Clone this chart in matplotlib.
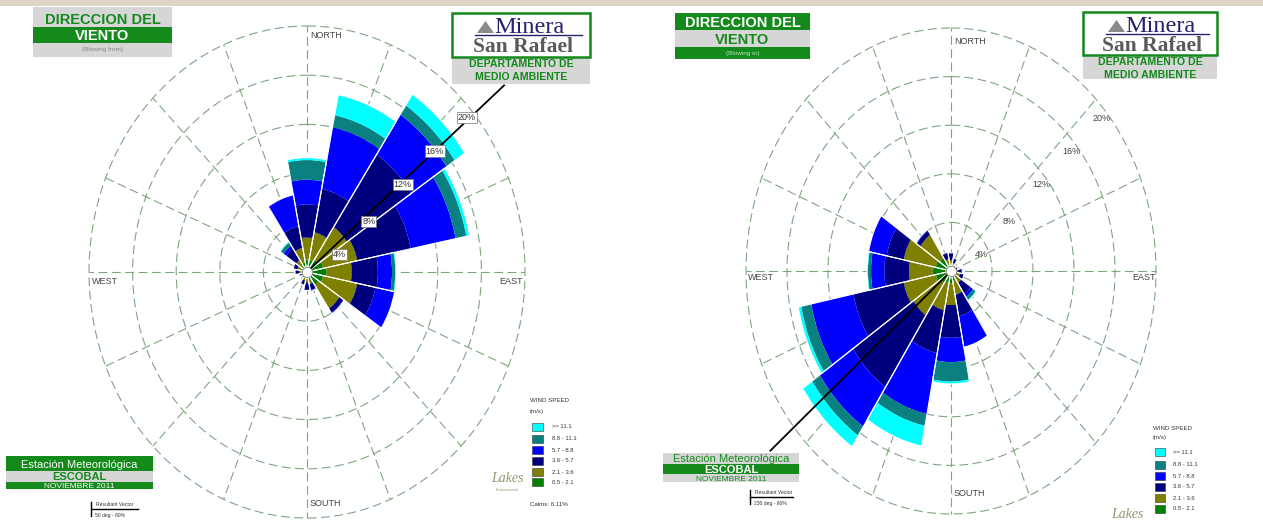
import numpy as np
import matplotlib
matplotlib.use('Agg')
import matplotlib.pyplot as plt
from matplotlib.patches import Rectangle, Polygon
from matplotlib.lines import Line2D

W, H = 1263, 521
fig = plt.figure(figsize=(W / 100, H / 100), dpi=100)
fig.patch.set_facecolor('white')

# ---------------- data ----------------
directions = ['N', 'NNE', 'NE', 'ENE', 'E', 'ESE', 'SE', 'SSE',
              'S', 'SSW', 'SW', 'WSW', 'W', 'WNW', 'NW', 'NNW']
dir_deg = np.arange(16) * 22.5
speed_labels = ['>= 11.1', '8.8 - 11.1', '5.7 - 8.8', '3.6 - 5.7', '2.1 - 3.6', '0.5 - 2.1']
# frequency (%) of each speed class per direction (wind blowing from)
f_05_21 = [1.0, 1.0, 1.2, 1.5, 1.8, 1.5, 1.3, 0.6, 0.5, 0.4, 0.3, 0.3, 0.4, 0.5, 0.6, 0.8]
f_21_36 = [1.8, 2.3, 3.2, 3.2, 2.3, 3.2, 2.3, 0.4, 0.4, 0.3, 0.2, 0.2, 0.3, 0.4, 0.6, 1.2]
f_36_57 = [2.7, 3.6, 7.1, 5.0, 2.4, 1.7, 0.4, 0.5, 0.6, 0.4, 0.1, 0.2, 0.4, 0.4, 1.1, 1.8]
f_57_88 = [2.0, 5.1, 3.9, 4.2, 1.3, 1.8, 0.1, 0.1, 0.0, 0.0, 0.0, 0.0, 0.0, 0.0, 0.3, 2.6]
f_88_111 = [1.6, 1.0, 0.9, 1.0, 0.3, 0.0, 0.0, 0.0, 0.0, 0.0, 0.0, 0.0, 0.0, 0.0, 0.3, 0.0]
f_111 = [0.2, 1.7, 1.1, 0.3, 0.1, 0.0, 0.0, 0.0, 0.0, 0.0, 0.0, 0.0, 0.0, 0.0, 0.1, 0.0]
classes = [f_05_21, f_21_36, f_36_57, f_57_88, f_88_111, f_111]
class_colors = ['#008000', '#808000', '#00007F', '#0000FF', '#0A8080', '#00FFFF']
ring_levels = [4, 8, 12, 16, 20]
ring_labels = ['4%', '8%', '12%', '16%', '20%']
calms = 6.11
resultant_from_deg = 50
resultant_to_deg = 230

GREEN = '#14891C'
GREY = '#D6D6D6'
GRIDC = '#7FA57F'
SANS = ['Liberation Sans', 'DejaVu Sans']
SERIF = ['Liberation Serif', 'DejaVu Serif']

# placement of ring labels (angle in deg, radial position in %)
LABEL_ANG = [65, 54, 51, 50, 49.5]
LABEL_R = [3.3, 7.0, 11.3, 15.3, 19.3]


def fx(x):
    return x / W


def fy(y):
    return 1 - y / H


def rect(x0, y0, x1, y1, fc, ec='none', lw=0.0, z=2):
    fig.add_artist(Rectangle((fx(x0), fy(y1)), (x1 - x0) / W, (y1 - y0) / H,
                             transform=fig.transFigure, facecolor=fc,
                             edgecolor=ec, linewidth=lw, zorder=z))


def text(x, y, s, **kw):
    kw.setdefault('family', SANS)
    kw.setdefault('ha', 'center')
    kw.setdefault('va', 'center')
    kw.setdefault('zorder', 5)
    fig.text(fx(x), fy(y), s, **kw)


# top beige strip
rect(0, 0, W, 6, '#DCD5C3', z=1)


def make_rose(box, rot, boxed_labels, res_deg, res_len):
    x0, y0, x1, y1 = box
    ax = fig.add_axes([fx(x0), fy(y1), (x1 - x0) / W, (y1 - y0) / H], projection='polar')
    ax.set_aspect('auto')
    ax.set_theta_zero_location('N')
    ax.set_theta_direction(-1)
    ax.set_ylim(0, ring_levels[-1])
    ax.set_xticks([])
    ax.set_yticks([])
    ax.grid(False)
    ax.spines['polar'].set_visible(False)
    ax.patch.set_alpha(0)
    th = np.linspace(0, 2 * np.pi, 721)
    for r in ring_levels:
        ax.plot(th, np.full_like(th, r), color=GRIDC, lw=0.8, ls=(0, (8, 4)),
                zorder=1, clip_on=False)
    for d in dir_deg:
        ax.plot([np.deg2rad(d)] * 2, [0, ring_levels[-1]], color=GRIDC, lw=0.8,
                ls=(0, (8, 4)), zorder=1, clip_on=False)
    theta = np.deg2rad(dir_deg + rot)
    width = np.deg2rad(22.5)
    bottom = np.zeros(len(directions))
    for vals, c in zip(classes, class_colors):
        vals = np.asarray(vals)
        ax.bar(theta, vals, width=width, bottom=bottom, color=c,
               edgecolor='none', zorder=2, align='center')
        bottom = bottom + vals
    ax.bar(theta, bottom, width=width, bottom=0, facecolor='none',
           edgecolor='white', lw=0.8, zorder=3, align='center')
    # resultant vector
    ax.plot([np.deg2rad(res_deg)] * 2, [0, res_len], color='black', lw=1.3,
            zorder=4, clip_on=False)
    # ring labels
    for ang, r, lab in zip(LABEL_ANG, LABEL_R, ring_labels):
        if boxed_labels:
            ax.text(np.deg2rad(ang), r, lab, fontsize=6.5,
                    family=SANS, color='#333333', ha='center', va='center', zorder=6,
                    bbox=dict(boxstyle='square,pad=0.12', fc='white', ec='#777777', lw=0.5))
        else:
            ax.text(np.deg2rad(ang), r, lab, fontsize=6.5,
                    family=SANS, color='#444444', ha='center', va='center', zorder=6)
    ax.scatter([0], [0], s=55, c='white', edgecolors='#777777', linewidths=0.5,
               zorder=7, clip_on=False)
    return ax


# left rose (blowing from)
make_rose((89, 26, 525, 518), 0, True, resultant_from_deg, 23.6)
# right rose (blowing to)
make_rose((746, 28, 1156, 514), 180, False, resultant_to_deg, 23.0)

# compass labels
cl = dict(fontsize=6.5, color='#444444', ha='left')
text(310, 35, 'NORTH', **cl)
text(92, 281, 'WEST', **cl)
text(499, 282, 'EAST', **cl)
text(310, 503, 'SOUTH', **cl)
text(954, 41, 'NORTH', **cl)
text(748, 278, 'WEST', **cl)
text(1132, 278, 'EAST', **cl)
text(954, 494, 'SOUTH', **cl)

# ---------- title boxes ----------
# left
rect(33, 7, 172, 27, GREY)
rect(33, 27, 172, 43, GREEN)
rect(33, 43, 172, 57, GREY)
text(102.5, 24, 'DIRECCION DEL', fontsize=10.5, weight='bold', color=GREEN, va='baseline')
text(102.5, 40.5, 'VIENTO', fontsize=10.5, weight='bold', color='white', va='baseline')
text(102.5, 50, '(Blowing from)', fontsize=4.6, color='#888888')
# right
rect(675, 13, 810, 30, GREEN)
rect(675, 30, 810, 47, GREY)
rect(675, 47, 810, 59, GREEN)
text(742.5, 27, 'DIRECCION DEL', fontsize=10.5, weight='bold', color='white', va='baseline')
text(742.5, 44, 'VIENTO', fontsize=10.5, weight='bold', color=GREEN, va='baseline')
text(742.5, 53, '(Blowing to)', fontsize=4.6, color='#BFE5BF')


# ---------- logo boxes ----------
def logo(x0, y0, x1, ymid, y1):
    rect(x0, ymid, x1, y1, GREY, z=3)
    rect(x0, y0, x1, ymid, 'white', ec=GREEN, lw=1.8, z=3)
    cx = (x0 + x1) / 2
    tx = x0 + 25
    fig.add_artist(Polygon([(fx(tx), fy(y0 + 20)), (fx(tx + 17), fy(y0 + 20)),
                            (fx(tx + 8.5), fy(y0 + 8))], closed=True,
                           transform=fig.transFigure, facecolor='#8A8A8A',
                           edgecolor='none', zorder=4))
    text(tx + 17, y0 + 20, 'Minera', family=SERIF, fontsize=17.5, color='#23236E',
         ha='left', va='baseline')
    fig.add_artist(Line2D([fx(tx - 2), fx(x1 - 8)], [fy(y0 + 22), fy(y0 + 22)],
                          transform=fig.transFigure, color='#23236E', lw=1.0, zorder=4))
    text(cx + 2, y0 + 39, 'San Rafael', family=SERIF, fontsize=15.5, weight='bold',
         color='#5A5A5A', va='baseline')
    text(cx, ymid + 10, 'DEPARTAMENTO DE', fontsize=7.6, weight='bold', color=GREEN,
         va='baseline')
    text(cx, ymid + 23, 'MEDIO AMBIENTE', fontsize=7.6, weight='bold', color=GREEN,
         va='baseline')


logo(452, 13, 590, 57, 84)
logo(1083, 12, 1217, 55, 79)

# ---------- station boxes ----------
rect(6, 456, 153, 471, GREEN)
rect(6, 471, 153, 482, GREY)
rect(6, 482, 153, 489, GREEN)
text(79.5, 467.5, 'Estación Meteorológica', fontsize=8, color='white', va='baseline')
text(79.5, 480.5, 'ESCOBAL', fontsize=8, weight='bold', color=GREEN, va='baseline')
text(79.5, 488, 'NOVIEMBRE 2011', fontsize=6, color='white', va='baseline')

rect(663, 453, 799, 464, GREY)
rect(663, 464, 799, 474, GREEN)
rect(663, 474, 799, 482, GREY)
text(731, 462, 'Estación Meteorológica', fontsize=8, color=GREEN, va='baseline')
text(731, 473, 'ESCOBAL', fontsize=8, weight='bold', color='white', va='baseline')
text(731, 481, 'NOVIEMBRE 2011', fontsize=6, color=GREEN, va='baseline')


# ---------- resultant vector keys ----------
def res_key(x, y, x2, lab):
    fig.add_artist(Line2D([fx(x), fx(x)], [fy(y - 7), fy(y + 7)],
                          transform=fig.transFigure, color='black', lw=1.0))
    fig.add_artist(Line2D([fx(x), fx(x2)], [fy(y), fy(y)],
                          transform=fig.transFigure, color='black', lw=1.0))
    text(x + 5, y - 5, 'Resultant Vector', fontsize=3.6, ha='left', color='#333333')
    text(x + 4, y + 6, lab, fontsize=3.6, ha='left', color='#333333')


res_key(91, 509, 138, '50 deg - 60%')
res_key(750, 497, 793, '230 deg - 60%')


# ---------- legends ----------
def legend(x, ytitle, rows, xlab, sw, sh, calm=None):
    text(x, ytitle, 'WIND SPEED', fontsize=4.4, ha='left', color='#333333')
    text(x, ytitle + 10, '(m/s)', fontsize=4.4, ha='left', color='#333333')
    for yc, lab, col in zip(rows, speed_labels, class_colors[::-1]):
        rect(x + 2, yc - sh / 2, x + 2 + sw, yc + sh / 2, col, ec='#333333', lw=0.4)
        text(xlab, yc, lab, fontsize=4.2, ha='left', color='#333333')
    if calm is not None:
        text(x, rows[-1] + 23, f'Calms: {calm:.2f}%', fontsize=4.4, ha='left',
             color='#333333')


legend(530, 401, [427, 439, 450, 461, 472, 482], 552, 11, 8.5, calms)
legend(1153, 428, [452, 465, 476, 487, 498, 509], 1173, 10, 8.5)

# Lakes logos
text(507, 479, 'Lakes', family=SERIF, fontsize=10, style='italic', color='#8C9A6E')
text(507, 490, 'Environmental', fontsize=2.5, color='#8C9A6E')
text(1127, 515, 'Lakes', family=SERIF, fontsize=10, style='italic', color='#8C9A6E')

fig.savefig('out.png', dpi=100, facecolor='white')
